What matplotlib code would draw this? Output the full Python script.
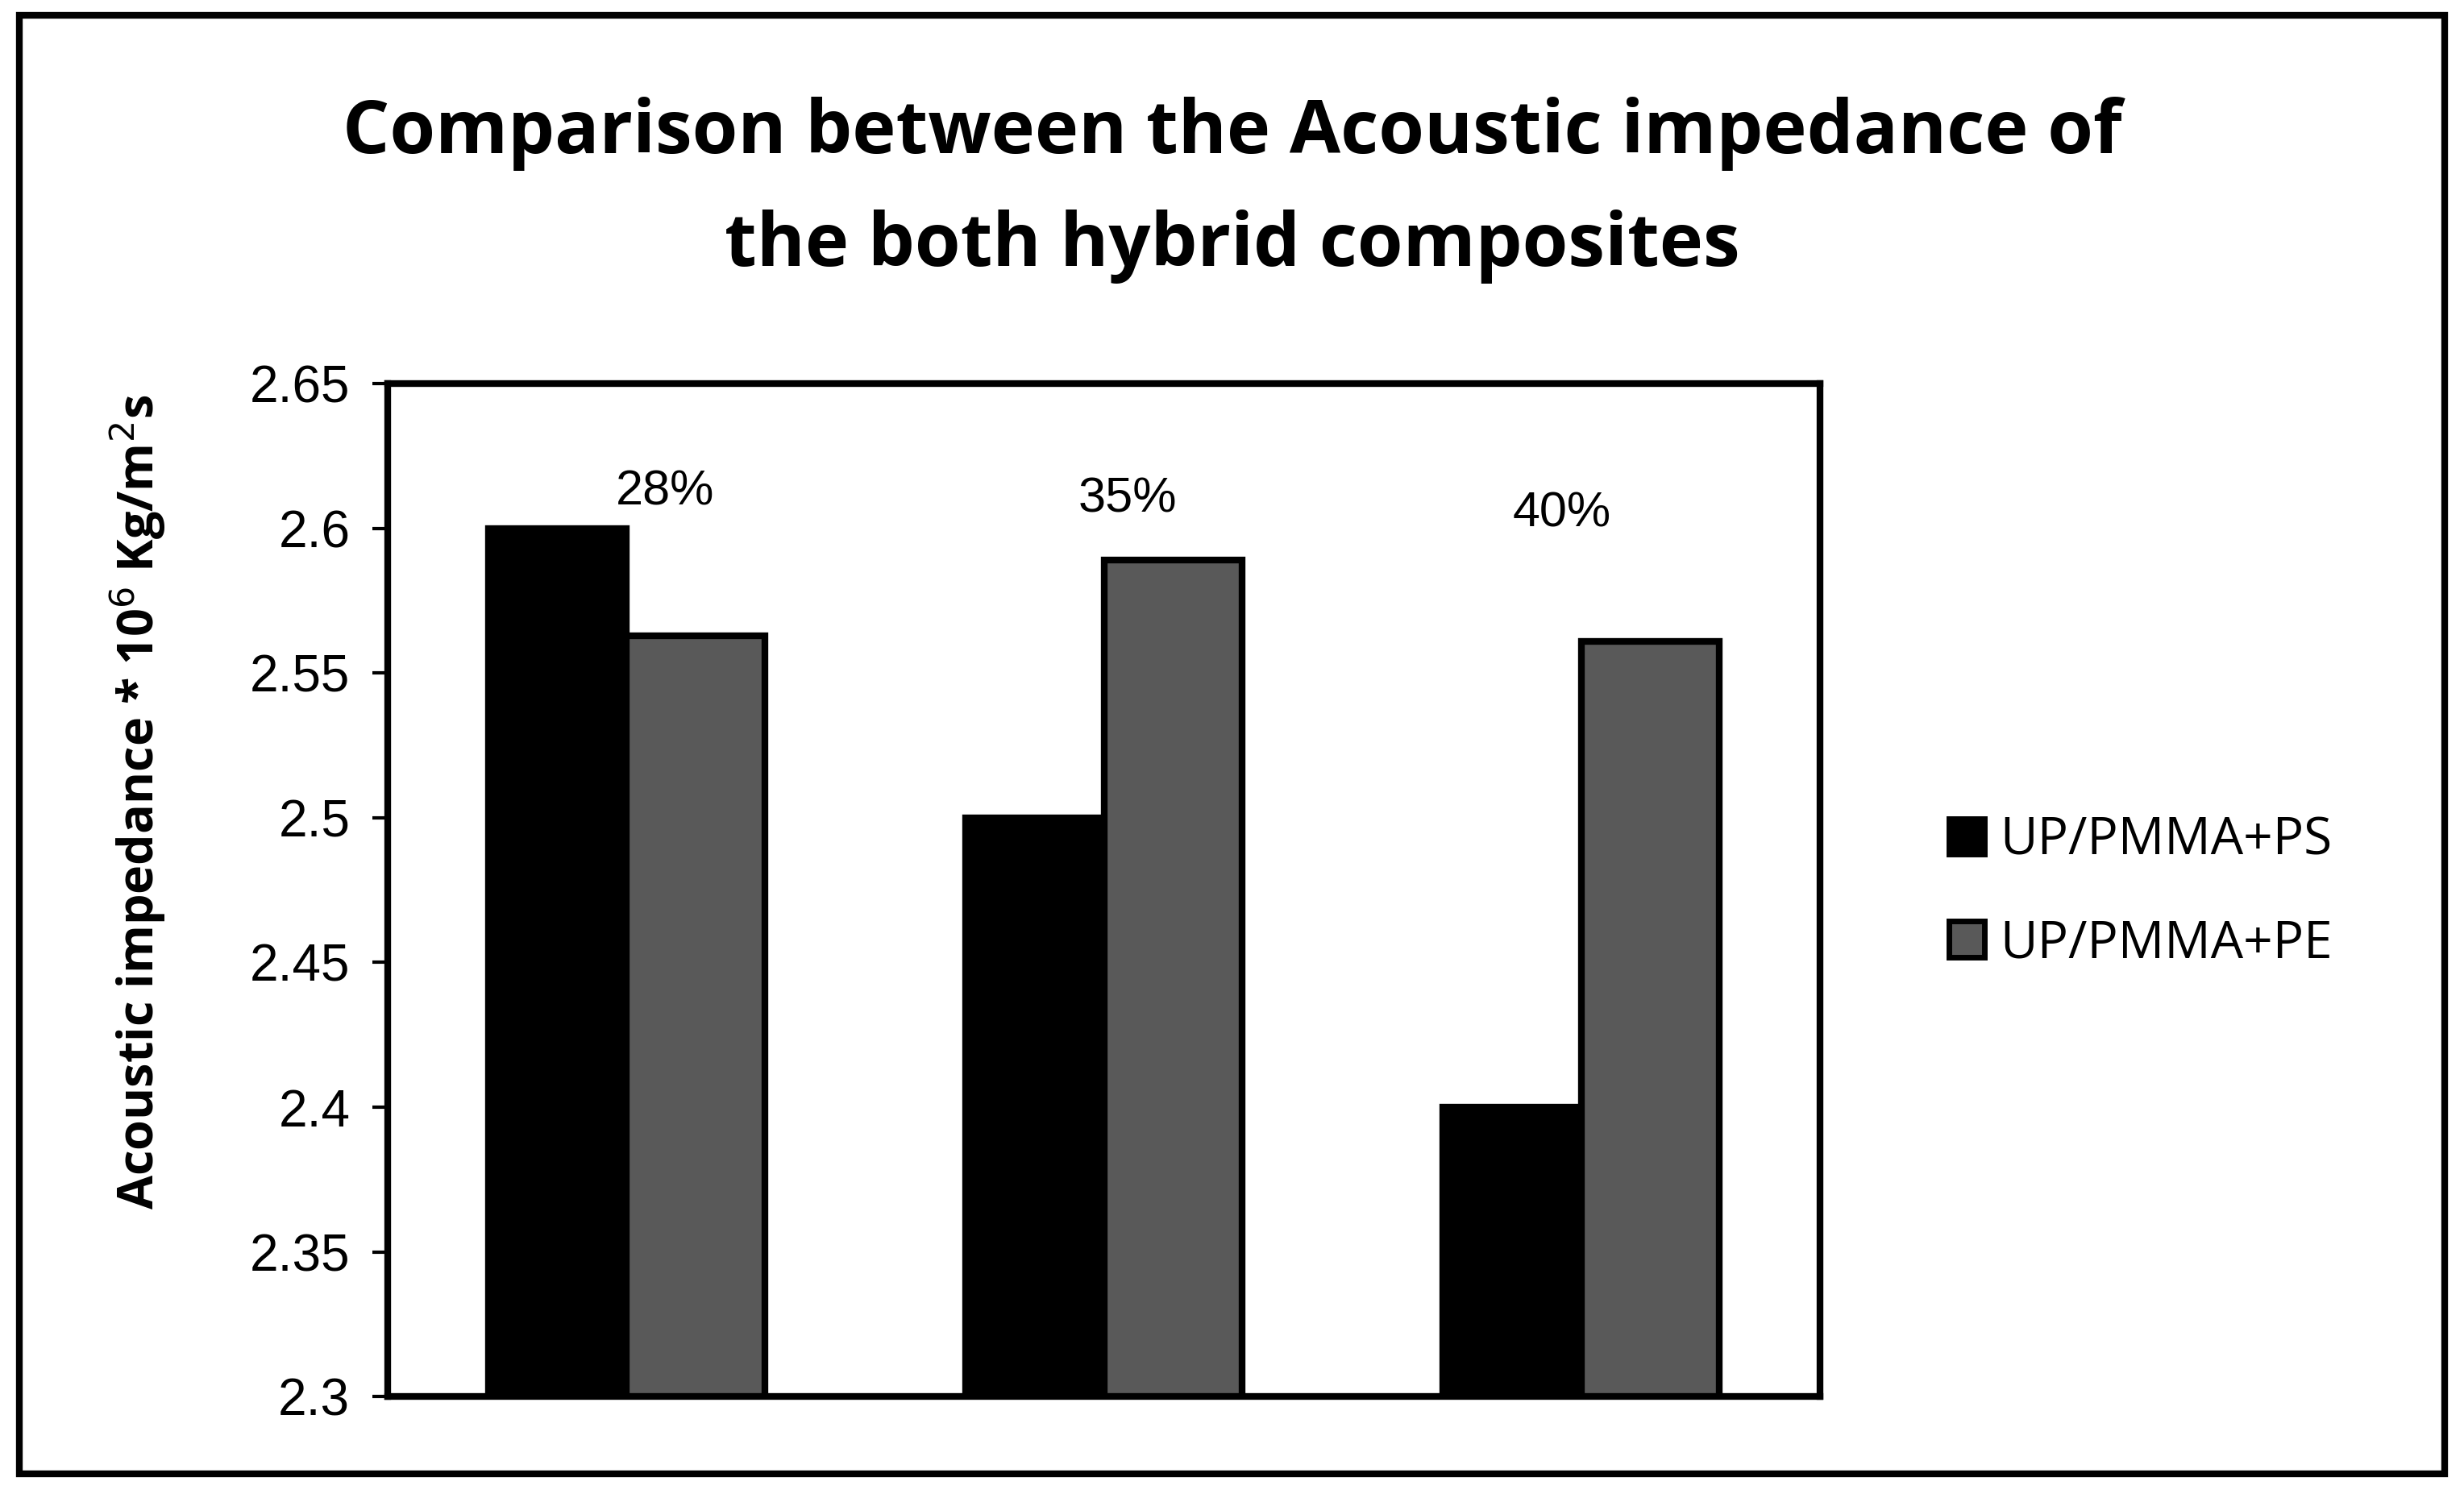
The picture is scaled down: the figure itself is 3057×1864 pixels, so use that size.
import matplotlib
matplotlib.use("Agg")
import matplotlib.pyplot as plt
from matplotlib.patches import Rectangle, Patch
import numpy as np

categories = ["28%", "35%", "40%"]
ps_values = [2.6, 2.5, 2.4]
pe_values = [2.563, 2.589, 2.561]
series_names = ["UP/PMMA+PS", "UP/PMMA+PE"]
yticks = [2.3, 2.35, 2.4, 2.45, 2.5, 2.55, 2.6, 2.65]
ytick_labels = ["2.3", "2.35", "2.4", "2.45", "2.5", "2.55", "2.6", "2.65"]
label_offsets = [0.08, 0.05, -0.04]
label_y = [2.6125, 2.610, 2.605]

fig = plt.figure(figsize=(30.57, 18.64), dpi=100)
fig.patches.append(Rectangle((0.008, 0.019), 0.984, 0.971, transform=fig.transFigure,
                             fill=False, edgecolor="black", linewidth=6))
ax = fig.add_axes([0.1575, 0.0702, 0.581, 0.6743])
x = np.arange(len(categories))
w = 0.29
ax.bar(x - w/2, ps_values, w, color="black", edgecolor="black", linewidth=6)
ax.bar(x + w/2, pe_values, w, color="#595959", edgecolor="black", linewidth=6)
for i, c in enumerate(categories):
    ax.text(x[i] + label_offsets[i], label_y[i], c, ha="center", va="center",
            fontsize=44, family="Liberation Sans")
ax.set_xlim(-0.5, 2.5)
ax.set_ylim(2.3, 2.65)
ax.set_yticks(yticks)
ax.set_yticklabels(ytick_labels, fontsize=46, family="Liberation Sans")
ax.set_xticks([])
ax.tick_params(axis="y", length=14, width=3, direction="out", pad=20)
for s in ax.spines.values():
    s.set_linewidth(6)

fig.text(0.5, 0.911, "Comparison between the Acoustic impedance of", ha="center", va="center",
         fontsize=66, fontweight="bold", family="Open Sans")
fig.text(0.5, 0.836, "the both hybrid composites", ha="center", va="center",
         fontsize=66, fontweight="bold", family="Open Sans")
fig.text(0.056, 0.466, r"Acoustic impedance * 10$^{6}$ Kg/m$^{2}$s", rotation=90,
         ha="center", va="center", fontsize=44, fontweight="bold", family="Open Sans")

handles = [Patch(facecolor="black", edgecolor="black", linewidth=5),
           Patch(facecolor="#595959", edgecolor="black", linewidth=5)]
fig.legend(handles, series_names, loc="center left", bbox_to_anchor=(0.772, 0.406),
           frameon=False, fontsize=46, prop={"family": "Open Sans", "size": 46},
           handlelength=0.7, handleheight=0.7, handletextpad=0.3, labelspacing=1.0)

fig.savefig("out.png", dpi=100)
